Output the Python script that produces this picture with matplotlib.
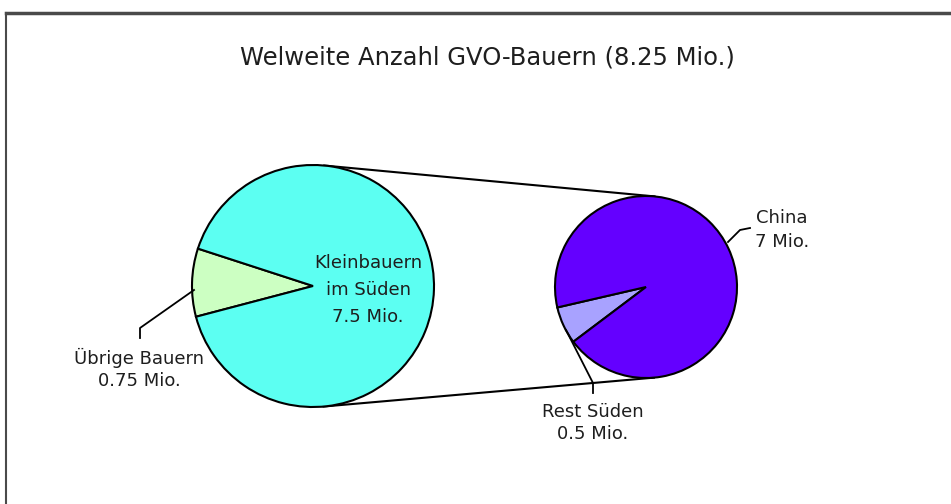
import numpy as np
import matplotlib.pyplot as plt

plt.rcParams['font.family'] = ['DejaVu Sans']

title = "Welweite Anzahl GVO-Bauern (8.25 Mio.)"

# left pie: all GVO farmers
left_labels = ["Übrige Bauern", "Kleinbauern im Süden"]
left_values = [0.75, 7.5]
left_colors = ["#ccffc2", "#5cfff2"]

# right pie: breakdown of small farmers in the south
right_labels = ["Rest Süden", "China"]
right_values = [0.5, 7.0]
right_colors = ["#a8a2ff", "#6400ff"]

W, H = 951, 504
fig = plt.figure(figsize=(W / 100, H / 100), dpi=100)
ax = fig.add_axes([0, 0, 1, 1])


def py(y):
    # pixel row (from top) -> data y (from bottom)
    return H - y


c1 = (313, py(286))
r1 = 121
c2 = (646, py(287))
r2 = 91

wp = dict(edgecolor="black", linewidth=1.5)
ax.pie(left_values, colors=left_colors, startangle=162, counterclock=True,
       center=c1, radius=r1, wedgeprops=wp, frame=True)
ax.pie(right_values, colors=right_colors, startangle=193, counterclock=True,
       center=c2, radius=r2, wedgeprops=wp, frame=True)

# outer tangent lines joining the two pies
dx, dy = c2[0] - c1[0], c2[1] - c1[1]
d = np.hypot(dx, dy)
theta = np.arctan2(dy, dx)
alpha = np.arccos((r1 - r2) / d)
for sgn in (1, -1):
    a = theta + sgn * alpha
    p1 = (c1[0] + r1 * np.cos(a), c1[1] + r1 * np.sin(a))
    p2 = (c2[0] + r2 * np.cos(a), c2[1] + r2 * np.sin(a))
    ax.plot([p1[0], p2[0]], [p1[1], p2[1]], color="black", lw=1.5, zorder=0)

# frame
ax.plot([6, W + 10], [py(13), py(13)], color="#4a4a4a", lw=2.5)
ax.plot([6, 6], [py(13), -10], color="#4a4a4a", lw=1.5)

tc = "#1e1e1e"
ax.text(487, py(57), title, ha="center", va="center", fontsize=17.5, color=tc)

fs = 13
ax.text(368, py(290), "Kleinbauern\nim Süden\n7.5 Mio.", ha="center", va="center",
        fontsize=fs, color=tc, linespacing=1.62)
ax.text(139, py(369), "Übrige Bauern\n0.75 Mio.", ha="center", va="center",
        fontsize=fs, color=tc, linespacing=1.3)
ax.text(782, py(230), "China\n7 Mio.", ha="center", va="center",
        fontsize=fs, color=tc, linespacing=1.45)
ax.text(593, py(423), "Rest Süden\n0.5 Mio.", ha="center", va="center",
        fontsize=fs, color=tc, linespacing=1.3)

# leader lines
ax.plot([194, 140, 140], [py(290), py(328), py(338)], color="black", lw=1.3)
ax.plot([728, 740, 750], [py(242), py(230), py(228)], color="black", lw=1.3)
ax.plot([566, 593, 593], [py(330), py(383), py(393)], color="black", lw=1.3)

ax.set_xlim(0, W)
ax.set_ylim(0, H)
ax.set_aspect("equal")
ax.axis("off")

fig.savefig("out.png", dpi=100, facecolor="white")
